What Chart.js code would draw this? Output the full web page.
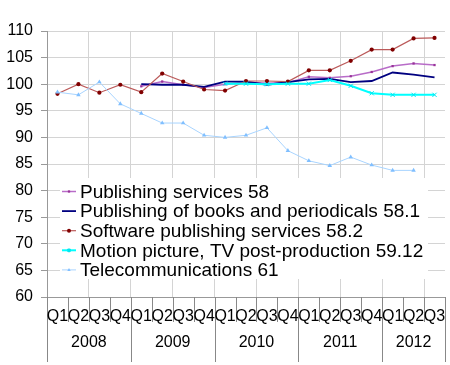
<!DOCTYPE html>
<html>
<head>
<meta charset="utf-8">
<script src="https://cdn.jsdelivr.net/npm/chart.js@4"></script>
<style>
html,body{margin:0;padding:0;background:#fff;}
#wrap{width:450px;height:365px;position:relative;}
</style>
</head>
<body>
<div id="wrap"><canvas id="c" width="450" height="365"></canvas></div>
<script>
const quarterLabels = ['Q1','Q2','Q3','Q4','Q1','Q2','Q3','Q4','Q1','Q2','Q3','Q4','Q1','Q2','Q3','Q4','Q1','Q2','Q3'];
const yearLabels = ['2008','2009','2010','2011','2012'];
const yearSpans = [4,4,4,4,3];
const yTicks = {min:60, max:110, step:5};

const seriesNames = [
  'Publishing services 58',
  'Publishing of books and periodicals 58.1',
  'Software publishing services 58.2',
  'Motion picture, TV post-production 59.12',
  'Telecommunications 61'
];
const publishing58 = [null,null,null,null, 99.6,100.5,99.9,99.4, 100.0,100.4,100.2,100.3, 101.4,101.2,101.5,102.3, 103.4,103.9,103.6];
const books581 = [null,null,null,null, 100.0,99.9,99.9,99.5, 100.5,100.5,99.9,100.4, 100.9,101.0,100.4,100.6, 102.2,101.8,101.3];
const software582 = [98.2,100.0,98.4,99.9, 98.5,102.0,100.5,99.0, 98.8,100.6,100.6,100.5, 102.6,102.6,104.4,106.5, 106.5,108.6,108.7];
const motion5912 = [null,null,null,null, null,null,null,null, 100.1,100.1,100.0,100.1, 100.1,100.8,99.7,98.3, 98.0,98.0,98.0];
const telecom61 = [98.5,98.0,100.4,96.3, 94.5,92.7,92.7,90.4, 90.0,90.4,91.8,87.5, 85.6,84.7,86.3,84.8, 83.8,83.8,null];

const FONT = "'Liberation Sans', Arial, sans-serif";

const styles = [
  {line:'#b86cc8', pt:'#993399', style:'rect', r:1.6, w:1.5},
  {line:'#000080', pt:'#000080', style:'circle', r:0, w:1.8},
  {line:'#bb5a5a', pt:'#800000', style:'circle', r:2.1, w:1.2},
  {line:'#00ffff', pt:'#00e5f0', style:'crossRot', r:3, w:2},
  {line:'#a8d4ff', pt:'#80bfff', style:'triangle', r:2.6, w:1}
];
const seriesData = [publishing58, books581, software582, motion5912, telecom61];

const datasets = seriesData.map((d,i)=>({
  label: seriesNames[i],
  data: d,
  borderColor: styles[i].line,
  borderWidth: styles[i].w,
  pointStyle: styles[i].style,
  pointRadius: styles[i].r,
  pointBackgroundColor: styles[i].pt,
  pointBorderColor: styles[i].pt,
  pointBorderWidth: styles[i].style === 'crossRot' ? 1 : 0,
  tension: 0,
  spanGaps: false,
  order: 5 - i
}));

const axisPlugin = {
  id:'axisPlugin',
  afterDraw(chart){
    const ctx = chart.ctx;
    const xs = chart.scales.x;
    const area = chart.chartArea;
    const half = (xs.getPixelForValue(1) - xs.getPixelForValue(0))/2;
    ctx.save();
    ctx.strokeStyle = '#888';
    ctx.lineWidth = 1;
    const n = quarterLabels.length;
    const yearBounds = new Set();
    let acc = 0; yearBounds.add(0);
    yearSpans.forEach(s=>{acc+=s; yearBounds.add(acc);});
    for(let i=0;i<=n;i++){
      const x = Math.round(xs.getPixelForValue(i) - half) + 0.5;
      ctx.beginPath();
      ctx.moveTo(x, area.bottom);
      ctx.lineTo(x, yearBounds.has(i) ? area.bottom + 65 : area.bottom + 25);
      ctx.stroke();
    }
    ctx.fillStyle = '#000';
    ctx.font = '16px ' + FONT;
    ctx.textAlign = 'center';
    ctx.textBaseline = 'middle';
    quarterLabels.forEach((q,i)=>{
      ctx.fillText(q, xs.getPixelForValue(i), area.bottom + 20);
    });
    let start = 0;
    yearLabels.forEach((y,k)=>{
      const end = start + yearSpans[k] - 1;
      const cx = (xs.getPixelForValue(start) + xs.getPixelForValue(end))/2;
      ctx.fillText(y, cx, area.bottom + 46);
      start += yearSpans[k];
    });
    // legend
    const lx = 60, ly = 178, lw = 368, lh = 101;
    ctx.fillStyle = '#fff';
    ctx.fillRect(lx, ly, lw, lh);
    ctx.font = '19px ' + FONT;
    ctx.textAlign = 'left';
    ctx.textBaseline = 'middle';
    seriesNames.forEach((name,i)=>{
      const yy = 191.5 + i*19.6;
      ctx.strokeStyle = styles[i].line;
      ctx.lineWidth = styles[i].w;
      ctx.beginPath();
      ctx.moveTo(62, yy); ctx.lineTo(76, yy);
      ctx.stroke();
      if(styles[i].r>0){
        ctx.fillStyle = styles[i].pt;
        ctx.strokeStyle = styles[i].pt;
        Chart.helpers.drawPoint(ctx, {pointStyle: styles[i].style, radius: Math.min(styles[i].r,2), borderWidth: styles[i].style === 'crossRot' ? 1 : 0}, 69, yy);
      }
      ctx.fillStyle = '#000';
      ctx.fillText(name, 80, yy + 1);
    });
    ctx.restore();
  }
};

new Chart(document.getElementById('c'), {
  type:'line',
  data:{ labels: quarterLabels.map((q,i)=>i), datasets },
  options:{
    responsive:false,
    animation:false,
    layout:{padding:{top:31,right:2,left:0,bottom:0}},
    plugins:{legend:{display:false}, tooltip:{enabled:false}},
    scales:{
      x:{
        type:'category',
        offset:true,
        ticks:{display:false},
        grid:{
          offset:true,
          drawTicks:false,
          color:(c)=> (c.index % 2 === 0 || c.index === quarterLabels.length) ? '#d4d4d4' : 'rgba(0,0,0,0)',
          lineWidth:1
        },
        border:{display:true, color:'#999'},
        afterFit(s){ s.height = 68; }
      },
      y:{
        min:yTicks.min, max:yTicks.max,
        ticks:{stepSize:yTicks.step, color:'#000', font:{family:FONT, size:16}, padding:8},
        grid:{color:'#d4d4d4', tickLength:6, tickColor:'#999'},
        border:{display:true, color:'#999'},
        afterFit(s){ s.width = 47; }
      }
    }
  },
  plugins:[axisPlugin]
});
</script>
</body>
</html>
